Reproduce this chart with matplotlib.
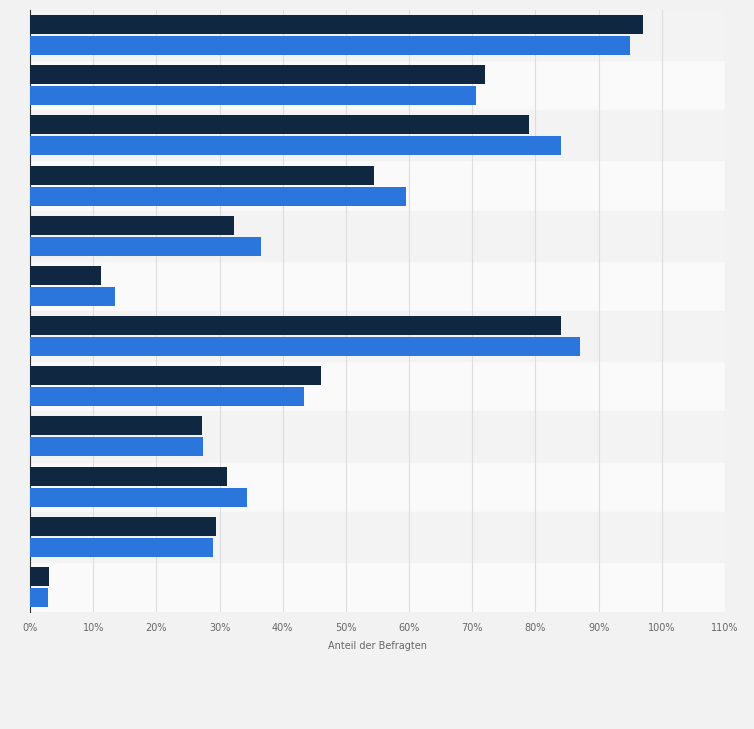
import matplotlib
matplotlib.use("Agg")
import matplotlib.pyplot as plt
import numpy as np

series_dark = [97, 72, 79, 54.5, 32.3, 11.3, 84, 46, 27.3, 31.2, 29.5, 3]
series_blue = [95, 70.6, 84, 59.5, 36.5, 13.5, 87, 43.3, 27.4, 34.3, 29, 2.8]
ticks = list(range(0, 111, 10))
tick_labels = [f"{t}%" for t in ticks]

fig = plt.figure(figsize=(7.54, 7.29), dpi=100, facecolor="#f2f2f2")
ax = fig.add_axes([30/754, 1-612/729, 695/754, 602/729])
ax.set_facecolor("#fafafa")
n = len(series_dark)
y = np.arange(n)
for i in range(n):
    if i % 2 == 0:
        ax.axhspan(i-0.5, i+0.5, color="#f3f3f3", zorder=0)
h = 0.38
ax.barh(y - 0.21, series_dark, height=h, color="#0f2741", zorder=3)
ax.barh(y + 0.21, series_blue, height=h, color="#2a76dd", zorder=3)
ax.set_ylim(n-0.5, -0.5)
ax.set_xlim(0, 110)
ax.set_xticks(ticks)
ax.set_xticklabels(tick_labels, fontsize=7, color="#666666")
ax.set_yticks([])
ax.grid(axis="x", color="#dddddd", linewidth=0.8, zorder=1)
for s in ["top", "right", "bottom"]:
    ax.spines[s].set_visible(False)
ax.spines["left"].set_color("#333333")
ax.tick_params(axis="x", length=0, pad=8)
ax.set_xlabel("Anteil der Befragten", fontsize=7, color="#666666", labelpad=6)
fig.savefig("out.png", dpi=100, facecolor=fig.get_facecolor())
